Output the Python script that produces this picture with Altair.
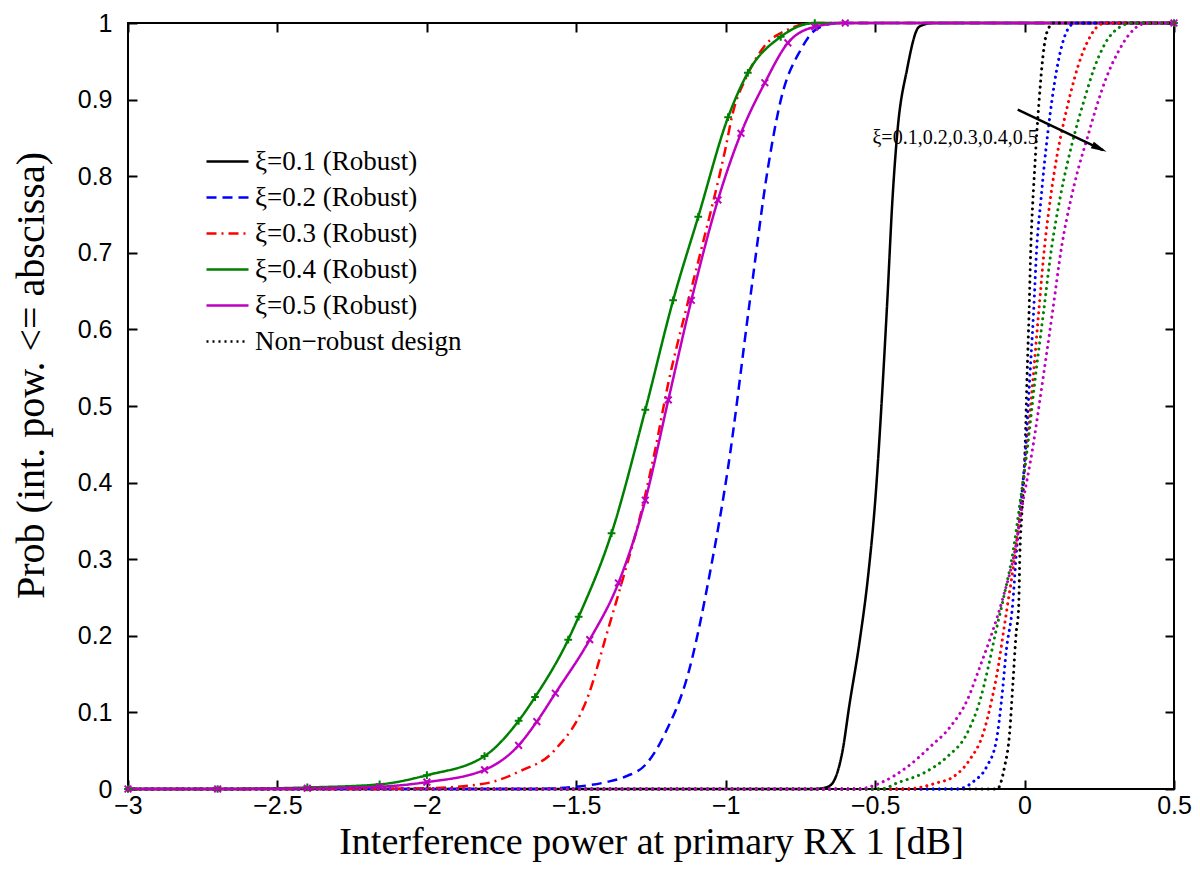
import altair as alt
import pandas as pd

# ---------------- data ----------------
x_ticks = [-3, -2.5, -2, -1.5, -1, -0.5, 0, 0.5]
y_ticks = [0, 0.1, 0.2, 0.3, 0.4, 0.5, 0.6, 0.7, 0.8, 0.9, 1]

robust_labels = ["ξ=0.1 (Robust)", "ξ=0.2 (Robust)", "ξ=0.3 (Robust)",
                 "ξ=0.4 (Robust)", "ξ=0.5 (Robust)"]
nonrobust_label = "Non\u2212robust design"
xi_values = ["0.1", "0.2", "0.3", "0.4", "0.5"]

# robust designs
r1_x = [-3.0, -0.709, -0.676, -0.649, -0.609, -0.586, -0.553, -0.523, -0.499, -0.479,
        -0.459, -0.442, -0.426, -0.393, -0.353, -0.309, 0.5]
r1_p = [0.0, 0.0, 0.001, 0.005, 0.05, 0.11, 0.19, 0.28, 0.38, 0.5,
        0.64, 0.77, 0.856, 0.94, 0.995, 1.0, 1.0]

r2_x = [-3.0, -1.65, -1.5, -1.4, -1.33, -1.27, -1.2, -1.126, -1.049, -0.992,
        -0.919, -0.859, -0.816, -0.749, -0.692, -0.626, 0.5]
r2_p = [0.0, 0.0, 0.003, 0.009, 0.017, 0.031, 0.075, 0.15, 0.29, 0.42,
        0.638, 0.81, 0.899, 0.965, 0.993, 1.0, 1.0]

r3_x = [-3.0, -2.2, -2.0, -1.807, -1.69, -1.574, -1.457, -1.40, -1.34, -1.29,
        -1.236, -1.192, -1.13, -1.082, -1.002, -0.976, -0.93, -0.87, -0.8, -0.7, 0.5]
r3_p = [0.0, 0.0, 0.001, 0.007, 0.023, 0.05, 0.125, 0.20, 0.28, 0.35,
        0.443, 0.53, 0.63, 0.704, 0.834, 0.883, 0.93, 0.97, 0.99, 1.0, 1.0]

r4_x = [-3.0, -2.7, -2.4, -2.158, -2.0, -1.807, -1.693, -1.638, -1.527, -1.492,
        -1.382, -1.269, -1.176, -1.092, -0.992, -0.926, -0.816, -0.702, 0.5]
r4_p = [0.0, 0.0, 0.002, 0.006, 0.018, 0.043, 0.089, 0.12, 0.195, 0.225,
        0.334, 0.495, 0.638, 0.747, 0.877, 0.935, 0.982, 1.0, 1.0]

r5_x = [-3.0, -2.7, -2.4, -2.158, -2.0, -1.807, -1.693, -1.632, -1.57, -1.455,
        -1.359, -1.269, -1.192, -1.115, -1.026, -0.949, -0.869, -0.792, -0.702, -0.6, 0.5]
r5_p = [0.0, 0.0, 0.001, 0.003, 0.009, 0.025, 0.057, 0.088, 0.125, 0.195,
        0.269, 0.377, 0.508, 0.638, 0.769, 0.856, 0.922, 0.974, 0.995, 1.0, 1.0]

# non-robust designs
n1_x = [-3.0, -0.092, -0.067, -0.050, -0.039, -0.028, -0.020, -0.015, -0.009, 0.002,
        0.008, 0.015, 0.021, 0.028, 0.034, 0.041, 0.048, 0.058, 0.074, 0.097, 0.5]
n1_p = [0.0, 0.0, 0.029, 0.073, 0.138, 0.204, 0.235, 0.316, 0.36, 0.447,
        0.534, 0.621, 0.708, 0.77, 0.81, 0.857, 0.895, 0.943, 0.987, 1.0, 1.0]

n2_x = [-3.0, -0.226, -0.170, -0.127, -0.094, -0.077, -0.061, -0.040, -0.026, -0.015,
        0.004, 0.017, 0.030, 0.041, 0.055, 0.066, 0.078, 0.092, 0.108, 0.128, 0.15, 0.17, 0.5]
n2_p = [0.0, 0.0, 0.01, 0.029, 0.064, 0.116, 0.181, 0.24, 0.316, 0.36,
        0.447, 0.534, 0.621, 0.708, 0.77, 0.815, 0.857, 0.9, 0.94, 0.975, 0.995, 1.0, 1.0]

n3_x = [-3.0, -0.40, -0.293, -0.238, -0.184, -0.138, -0.110, -0.088, -0.071, -0.057,
        -0.029, -0.017, 0.008, 0.028, 0.047, 0.067, 0.088, 0.11, 0.132, 0.155,
        0.18, 0.21, 0.24, 0.27, 0.5]
n3_p = [0.0, 0.0, 0.008, 0.016, 0.038, 0.073, 0.116, 0.16, 0.204, 0.24,
        0.316, 0.36, 0.447, 0.534, 0.621, 0.708, 0.775, 0.83, 0.872, 0.91,
        0.945, 0.975, 0.994, 1.0, 1.0]

n4_x = [-3.0, -0.48, -0.426, -0.337, -0.259, -0.192, -0.149, -0.121, -0.097, -0.070,
        -0.036, -0.020, 0.010, 0.035, 0.063, 0.091, 0.118, 0.145, 0.172, 0.20,
        0.232, 0.272, 0.32, 0.36, 0.5]
n4_p = [0.0, 0.0, 0.008, 0.021, 0.042, 0.073, 0.116, 0.16, 0.204, 0.25,
        0.316, 0.36, 0.447, 0.534, 0.621, 0.708, 0.77, 0.82, 0.862, 0.9,
        0.94, 0.975, 0.995, 1.0, 1.0]

n5_x = [-3.0, -0.56, -0.482, -0.392, -0.316, -0.249, -0.192, -0.149, -0.112, -0.072,
        -0.030, -0.012, 0.028, 0.061, 0.093, 0.124, 0.155, 0.18, 0.21, 0.24,
        0.275, 0.31, 0.35, 0.39, 0.42, 0.5]
n5_p = [0.0, 0.0, 0.008, 0.029, 0.055, 0.081, 0.116, 0.16, 0.20, 0.25,
        0.316, 0.36, 0.447, 0.534, 0.621, 0.708, 0.77, 0.81, 0.85, 0.89,
        0.93, 0.96, 0.985, 0.998, 1.0, 1.0]

# annotation
ann_text = ["ξ=0.1,0.2,0.3,0.4,0.5"]
ann_text_x = [-0.509]
ann_text_p = [0.85]
arrow_x = [-0.023, 0.262]
arrow_p = [0.887, 0.834]
arrowhead_x = [0.2507]
arrowhead_p = [0.8364]

# ---------------- styles ----------------
legend_domain = robust_labels + [nonrobust_label]
legend_colors = ["#000000", "#0000ff", "#ff0000", "#008000", "#c000c0", "#000000"]
legend_dashes = [[1, 0], [10, 6], [10, 5, 2, 5], [1, 0], [1, 0], [2, 4]]
robust_widths = [2.5, 2.5, 2, 4, 4.5]
nonrobust_colors = ["#000000", "#0000ff", "#ff0000", "#008000", "#c000c0"]


def long_df(labels, xs_list, ps_list, key):
    rows = []
    for lab, xs, ps in zip(labels, xs_list, ps_list):
        for i, (x, p) in enumerate(zip(xs, ps)):
            rows.append({key: lab, "x": x, "p": p, "i": i})
    return pd.DataFrame(rows)


robust_df = long_df(robust_labels, [r1_x, r2_x, r3_x, r4_x, r5_x],
                    [r1_p, r2_p, r3_p, r4_p, r5_p], "series")
nonrobust_df = long_df(xi_values, [n1_x, n2_x, n3_x, n4_x, n5_x],
                       [n1_p, n2_p, n3_p, n4_p, n5_p], "xi")
green_df = pd.DataFrame({"x": r4_x, "p": r4_p})
mag_df = pd.DataFrame({"x": r5_x, "p": r5_p})
text_df = pd.DataFrame({"x": ann_text_x, "p": ann_text_p, "t": ann_text})
arrow_df = pd.DataFrame({"x": arrow_x, "p": arrow_p})
head_df = pd.DataFrame({"x": arrowhead_x, "p": arrowhead_p})

xscale = alt.Scale(domain=[-3, 0.5], nice=False, zero=False)
yscale = alt.Scale(domain=[0, 1], nice=False, zero=False)

tick_common = dict(domain=False, grid=False, offset=-9, tickSize=9, tickWidth=2,
                   tickColor="black")

x_bottom = alt.X("x:Q", scale=xscale, axis=alt.Axis(
    orient="bottom", values=x_ticks, format="~g", labelFlush=False, labelOverlap=False,
    labelFont="Liberation Sans", labelFontSize=25, labelColor="black", labelPadding=4,
    title="Interference power at primary RX 1 [dB]", titleFont="Liberation Serif",
    titleFontSize=38, titleFontWeight="normal", titleColor="black", titlePadding=5,
    **tick_common))
y_left = alt.Y("p:Q", scale=yscale, axis=alt.Axis(
    orient="left", values=y_ticks, format="~g", labelOverlap=False,
    labelFont="Liberation Sans", labelFontSize=25, labelColor="black", labelPadding=16,
    title="Prob (int. pow. <= abscissa)", titleFont="Liberation Serif",
    titleFontSize=40, titleFontWeight="normal", titleColor="black",
    titleBaseline="middle", titleX=-106, titleY=352,
    **tick_common))
x_top = alt.X("x:Q", scale=xscale, title=None, axis=alt.Axis(
    orient="top", values=x_ticks, labels=False, **tick_common))
y_right = alt.Y("p:Q", scale=yscale, title=None, axis=alt.Axis(
    orient="right", values=y_ticks, labels=False, **tick_common))
x_none = alt.X("x:Q", scale=xscale, axis=None)
y_none = alt.Y("p:Q", scale=yscale, axis=None)

robust = alt.Chart(robust_df).mark_line(interpolate="monotone").encode(
    x=x_bottom, y=y_left, order="i:Q",
    color=alt.Color("series:N", scale=alt.Scale(domain=legend_domain, range=legend_colors),
                    legend=alt.Legend(
                        orient="none", legendX=77, legendY=116, title=None,
                        symbolType="stroke", symbolSize=1764, symbolStrokeWidth=2.5,
                        labelFont="Liberation Serif", labelFontSize=27, labelColor="black",
                        labelOffset=5, rowPadding=-4, padding=0, labelLimit=400)),
    strokeDash=alt.StrokeDash("series:N",
                              scale=alt.Scale(domain=legend_domain, range=legend_dashes)),
    strokeWidth=alt.StrokeWidth("series:N",
                                scale=alt.Scale(domain=robust_labels, range=robust_widths),
                                legend=None),
)

green_marks = alt.Chart(green_df).mark_point(
    shape="M-1,0L1,0M0,-1L0,1", filled=False, strokeWidth=2, size=60, color="#008000",
    opacity=1).encode(x=x_none, y=y_none)
mag_marks = alt.Chart(mag_df).mark_point(
    shape="M-1,-1L1,1M-1,1L1,-1", filled=False, strokeWidth=2, size=45, color="#c000c0",
    opacity=1).encode(x=x_none, y=y_none)

nonrobust = alt.Chart(nonrobust_df).mark_line(
    interpolate="monotone", strokeDash=[0.1, 6], strokeWidth=3, strokeCap="round"
).encode(
    x=x_top, y=y_right, order="i:Q",
    color=alt.Color("xi:N", scale=alt.Scale(domain=xi_values, range=nonrobust_colors),
                    legend=None),
)

ann = alt.Chart(text_df).mark_text(align="left", baseline="middle",
                                   font="Liberation Serif", fontSize=20,
                                   color="black").encode(x=x_none, y=y_none, text="t:N")
arrow = alt.Chart(arrow_df).mark_line(color="black", strokeWidth=2.5).encode(
    x=x_none, y=y_none)
head = alt.Chart(head_df).mark_point(shape="M0,-1L0.45,1L-0.45,1Z", filled=True,
                                     size=250, angle=115, color="black",
                                     opacity=1).encode(x=x_none, y=y_none)

chart = alt.layer(robust, green_marks, mag_marks, nonrobust, arrow, head, ann).resolve_axis(
    x="independent", y="independent"
).resolve_scale(
    color="independent", strokeDash="independent", strokeWidth="independent"
).properties(
    width=1046, height=766,
    autosize=alt.AutoSizeParams(type="none"),
    padding={"left": 120, "top": 15, "right": 18, "bottom": 73},
    background="white",
).configure_view(stroke="black", strokeWidth=2)

chart.save("out.html", embed_options={"renderer": "svg", "actions": False})
